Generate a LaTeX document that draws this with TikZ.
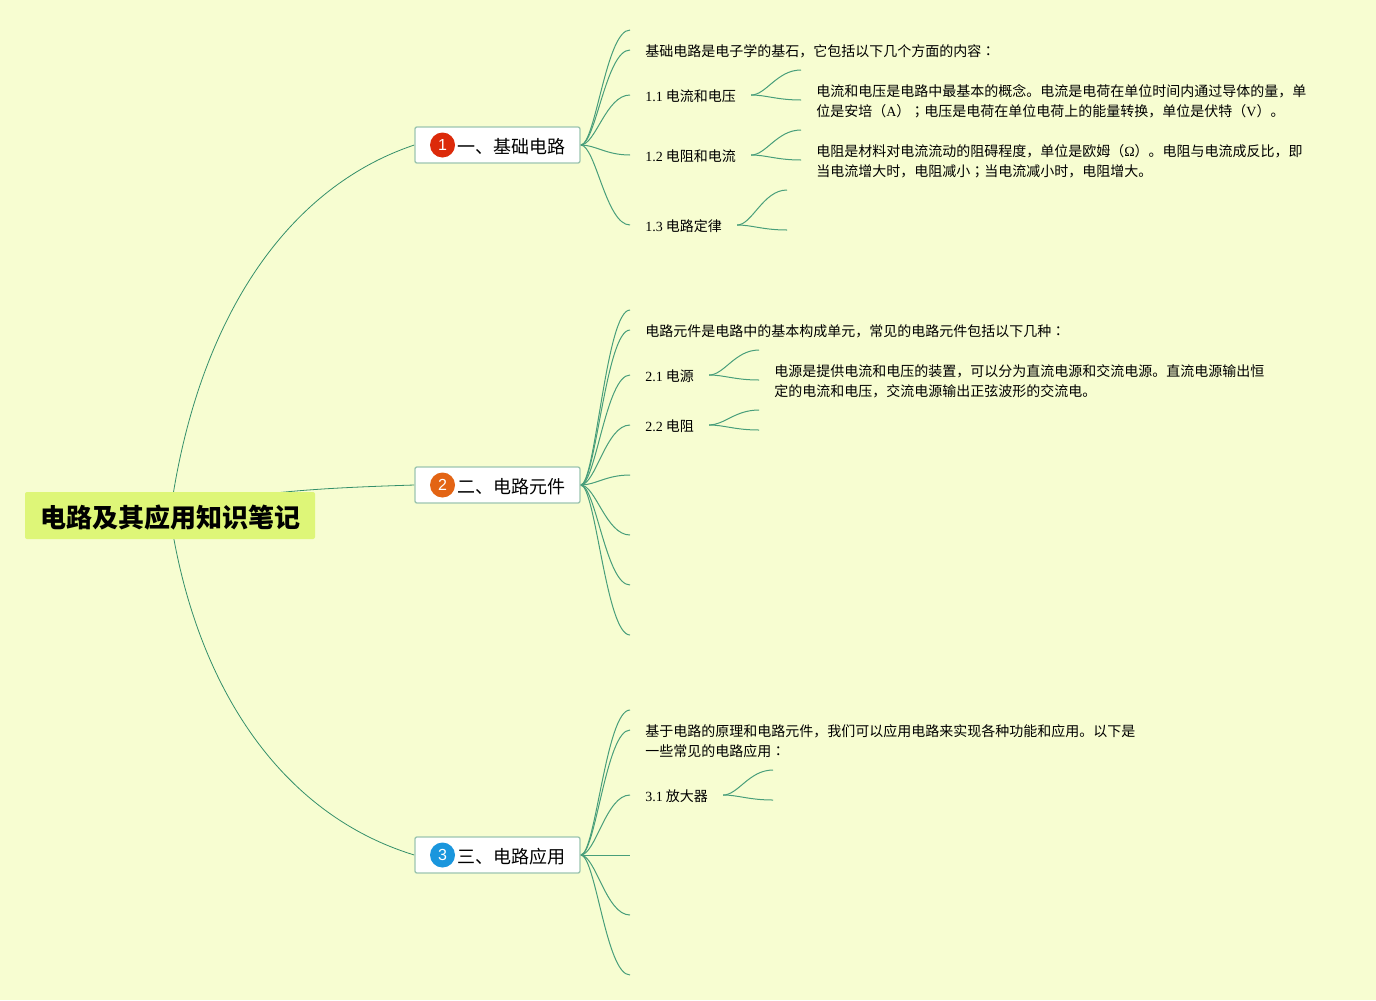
\documentclass[tikz,border=0pt]{standalone}
\usepackage{fontspec}
\setmainfont{Noto Sans CJK SC}
\newfontfamily\latinfont{Liberation Serif}
\newfontfamily\markfont{Noto Sans CJK JP}
\newfontfamily\iconfont{Liberation Sans}
\usetikzlibrary{backgrounds}
\definecolor{pagebg}{RGB}{247,253,209}
\definecolor{rootbg}{RGB}{222,246,120}
\definecolor{linkgreen}{RGB}{52,143,106}
\definecolor{sublink}{RGB}{72,158,122}
\definecolor{topicedge}{RGB}{156,197,176}
\newcommand{\lat}[1]{{\latinfont #1}}
\newcommand{\midmark}[1]{{\markfont #1}}
\tikzset{
  rootnode/.style={fill=rootbg,rounded corners=1.5pt,minimum width=217.5pt,minimum height=35.25pt,inner sep=0pt,text height=21.5pt,text depth=3pt,font=\fontsize{19.5}{24}\selectfont\bfseries},
  topic/.style={draw=topicedge,fill=white,line width=1pt,rounded corners=1.5pt,minimum width=123.75pt,minimum height=27pt,inner sep=0pt,anchor=west},
  topictext/.style={inner sep=0pt,font=\fontsize{13.5}{16}\selectfont},
  icon/.style={circle,minimum size=18.75pt,inner sep=0pt,text=white,font=\fontsize{12}{12}\iconfont},
  leaf/.style={inner xsep=11.25pt,inner ysep=0pt,anchor=west,text height=12pt,text depth=2pt,font=\fontsize{10.5}{15}\selectfont},
  para/.style={inner sep=0pt,anchor=west,align=left,font=\fontsize{10.5}{15}\selectfont},
  link/.style={draw=linkgreen,line width=0.6pt},
  sub/.style={draw=sublink,line width=0.75pt},
}
\begin{document}
\begin{tikzpicture}[x=0.75pt,y=0.75pt,yscale=-1]
\useasboundingbox (0,0) rectangle (1376,1000);

% Root and topics
\node [rootnode] (root) at (170,515.5) {电路及其应用知识笔记};
\node [topic] (topicA) at (414.3,145) {};
\node [topic] (topicB) at (414.3,485) {};
\node [topic] (topicC) at (414.3,855) {};
\node [icon,fill={rgb,255:red,220;green,42;blue,10}] (iconA) at (442.5,145) {1};
\node [icon,fill={rgb,255:red,227;green,100;blue,20}] (iconB) at (442.5,485) {2};
\node [icon,fill={rgb,255:red,26;green,150;blue,221}] (iconC) at (442.5,855) {3};
\node [topictext] (titleA) at (511,146.5) {一、基础电路};
\node [topictext] (titleB) at (511,486.5) {二、电路元件};
\node [topictext] (titleC) at (511,856.5) {三、电路应用};

% Text Node
\node [leaf] (leafA) at (630,50) {基础电路是电子学的基石，它包括以下几个方面的内容\midmark{：}};
\node [leaf] (leafAa) at (630,95) {\lat{1.1} 电流和电压};
\node [leaf] (leafAb) at (630,155) {\lat{1.2} 电阻和电流};
\node [leaf] (leafAc) at (630,225) {\lat{1.3} 电路定律};
\node [para] (paraAa) at (816,101.5) {电流和电压是电路中最基本的概念。电流是电荷在单位时间内通过导体的量，单\\位是安培（\lat{A}）\midmark{；}电压是电荷在单位电荷上的能量转换，单位是伏特（\lat{V}）。};
\node [para] (paraAb) at (816,161.5) {电阻是材料对电流流动的阻碍程度，单位是欧姆（\lat{Ω}）。电阻与电流成反比，即\\当电流增大时，电阻减小\midmark{；}当电流减小时，电阻增大。};
\node [leaf] (leafB) at (630,330) {电路元件是电路中的基本构成单元，常见的电路元件包括以下几种\midmark{：}};
\node [leaf] (leafBa) at (630,375) {\lat{2.1} 电源};
\node [leaf] (leafBb) at (630,425) {\lat{2.2} 电阻};
\node [para] (paraBa) at (774,381.5) {电源是提供电流和电压的装置，可以分为直流电源和交流电源。直流电源输出恒\\定的电流和电压，交流电源输出正弦波形的交流电。};
\node [para] (paraC) at (645,741.5) {基于电路的原理和电路元件，我们可以应用电路来实现各种功能和应用。以下是\\一些常见的电路应用\midmark{：}};
\node [leaf] (leafCa) at (630,795) {\lat{3.1} 放大器};

% Free ends
\coordinate (endA) at (630,30);
\coordinate (endAa) at (801,70);
\coordinate (endAb) at (801,100);
\coordinate (endAc) at (801,130);
\coordinate (endAd) at (801,160);
\coordinate (endAe) at (787,190);
\coordinate (endAf) at (787,230);
\coordinate (endB) at (630,310);
\coordinate (endBa) at (759,350);
\coordinate (endBb) at (759,380);
\coordinate (endBc) at (759,410);
\coordinate (endBd) at (759,430);
\coordinate (endBe) at (630,475);
\coordinate (endBf) at (630,535);
\coordinate (endBg) at (630,585);
\coordinate (endBh) at (630,635);
\coordinate (endC) at (630,710);
\coordinate (endCa) at (630,730);
\coordinate (endCb) at (773,770);
\coordinate (endCc) at (773,800);
\coordinate (endCd) at (630,855);
\coordinate (endCe) at (630,915);
\coordinate (endCf) at (630,975);

\begin{scope}[on background layer]
\fill [pagebg] (0,0) rectangle (1376,1000);

% Curve Lines
\draw [link] (root.center) .. controls (195,330) and (280,190) .. (topicA.west);
\draw [link] (root.center) .. controls (230,492) and (320,488) .. (topicB.west);
\draw [link] (root.center) .. controls (195,685) and (280,814) .. (topicC.west);

\draw [sub] (topicA.east) .. controls +(15,0) and +(-24,0) .. (endA);
\draw [sub] (topicA.east) .. controls +(15,0) and +(-24,0) .. (leafA.west);
\draw [sub] (topicA.east) .. controls +(15,0) and +(-24,0) .. (leafAa.west);
\draw [sub] (topicA.east) .. controls +(15,0) and +(-24,0) .. (leafAb.west);
\draw [sub] (topicA.east) .. controls +(15,0) and +(-24,0) .. (leafAc.west);

\draw [sub] (leafAa.east) .. controls +(15,0) and +(-24,0) .. (endAa);
\draw [sub] (leafAa.east) .. controls +(15,0) and +(-24,0) .. (endAb);
\draw [sub] (leafAb.east) .. controls +(15,0) and +(-24,0) .. (endAc);
\draw [sub] (leafAb.east) .. controls +(15,0) and +(-24,0) .. (endAd);
\draw [sub] (leafAc.east) .. controls +(15,0) and +(-24,0) .. (endAe);
\draw [sub] (leafAc.east) .. controls +(15,0) and +(-24,0) .. (endAf);

\draw [sub] (topicB.east) .. controls +(15,0) and +(-24,0) .. (endB);
\draw [sub] (topicB.east) .. controls +(15,0) and +(-24,0) .. (leafB.west);
\draw [sub] (topicB.east) .. controls +(15,0) and +(-24,0) .. (leafBa.west);
\draw [sub] (topicB.east) .. controls +(15,0) and +(-24,0) .. (leafBb.west);
\draw [sub] (topicB.east) .. controls +(15,0) and +(-24,0) .. (endBe);
\draw [sub] (topicB.east) .. controls +(15,0) and +(-24,0) .. (endBf);
\draw [sub] (topicB.east) .. controls +(15,0) and +(-24,0) .. (endBg);
\draw [sub] (topicB.east) .. controls +(15,0) and +(-24,0) .. (endBh);

\draw [sub] (leafBa.east) .. controls +(15,0) and +(-24,0) .. (endBa);
\draw [sub] (leafBa.east) .. controls +(15,0) and +(-24,0) .. (endBb);
\draw [sub] (leafBb.east) .. controls +(15,0) and +(-24,0) .. (endBc);
\draw [sub] (leafBb.east) .. controls +(15,0) and +(-24,0) .. (endBd);

\draw [sub] (topicC.east) .. controls +(15,0) and +(-24,0) .. (endC);
\draw [sub] (topicC.east) .. controls +(15,0) and +(-24,0) .. (endCa);
\draw [sub] (topicC.east) .. controls +(15,0) and +(-24,0) .. (leafCa.west);
\draw [sub] (topicC.east) -- (endCd);
\draw [sub] (topicC.east) .. controls +(15,0) and +(-24,0) .. (endCe);
\draw [sub] (topicC.east) .. controls +(15,0) and +(-24,0) .. (endCf);

\draw [sub] (leafCa.east) .. controls +(15,0) and +(-24,0) .. (endCb);
\draw [sub] (leafCa.east) .. controls +(15,0) and +(-24,0) .. (endCc);
\end{scope}
\end{tikzpicture}
\end{document}
